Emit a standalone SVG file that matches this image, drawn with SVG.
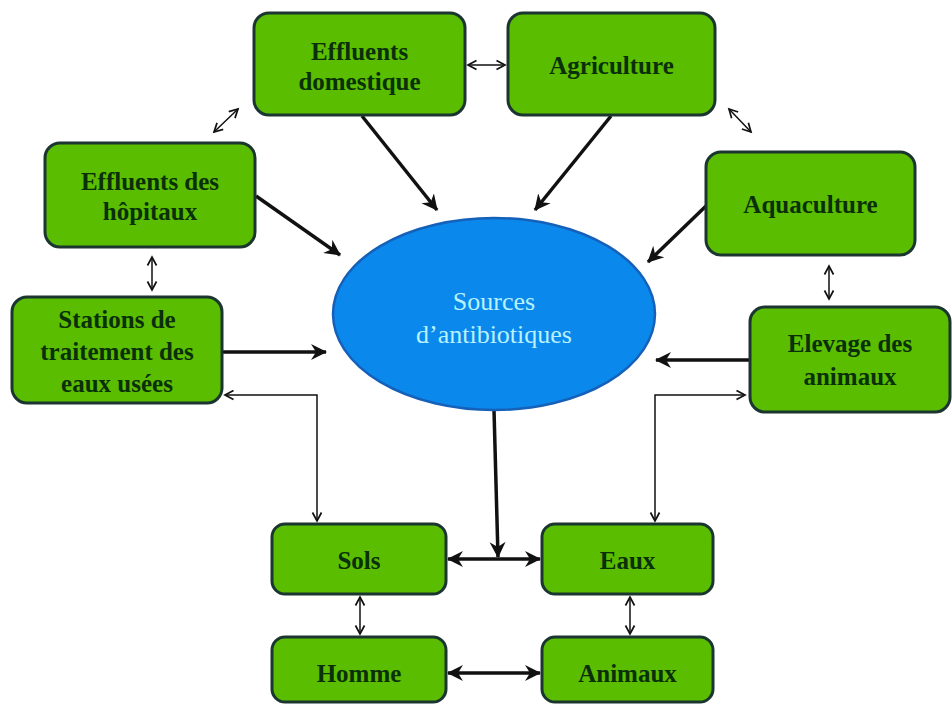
<svg xmlns="http://www.w3.org/2000/svg" width="952" height="704" viewBox="0 0 952 704">
<style>
.box{fill:#5abd00;stroke:#1b3530;stroke-width:3}
.lbl{font-family:"Liberation Serif",serif;font-weight:bold;font-size:25px;fill:#0a300a;text-anchor:middle}
.thin{fill:none;stroke:#111;stroke-width:1.5;marker-start:url(#thinArr);marker-end:url(#thinArr)}
.thick{fill:none;stroke:#111;stroke-width:3.5;marker-end:url(#thickArr)}
.thick2{fill:none;stroke:#111;stroke-width:3.5;marker-start:url(#thickArr);marker-end:url(#thickArr)}
</style>
<defs>
<marker id="thinArr" markerUnits="userSpaceOnUse" markerWidth="12" markerHeight="12" refX="9" refY="5" orient="auto-start-reverse" viewBox="0 0 12 10">
<path d="M0.5,0.5 L9,5 L0.5,9.5" fill="none" stroke="#111" stroke-width="1.7"/>
</marker>
<marker id="thickArr" markerUnits="userSpaceOnUse" markerWidth="18" markerHeight="18" refX="15" refY="8" orient="auto-start-reverse" viewBox="0 0 18 16">
<path d="M0,0 L16,8 L0,16 L5,8 z" fill="#111"/>
</marker>
</defs>
<rect width="952" height="704" fill="#fff"/>
<g id="connectors">
<line class="thin" x1="468" y1="65" x2="505" y2="65"/>
<line class="thin" x1="214" y1="132" x2="238" y2="109"/>
<line class="thin" x1="729" y1="109" x2="751" y2="132"/>
<line class="thin" x1="152" y1="257" x2="152" y2="290"/>
<line class="thin" x1="829" y1="266" x2="829" y2="299"/>
<polyline class="thin" points="317,521 317,395 225,395"/>
<polyline class="thin" points="655,521 655,395 745,395"/>
<line class="thin" x1="360" y1="597" x2="360" y2="634"/>
<line class="thin" x1="630" y1="597" x2="630" y2="634"/>
<line class="thick" x1="362" y1="116" x2="437" y2="210"/>
<line class="thick" x1="611" y1="116" x2="535" y2="210"/>
<line class="thick" x1="256" y1="196" x2="340" y2="255"/>
<line class="thick" x1="706" y1="206" x2="648" y2="262"/>
<line class="thick" x1="223" y1="352" x2="326" y2="352"/>
<line class="thick" x1="750" y1="360" x2="656" y2="360"/>
<line class="thick" x1="494" y1="410" x2="498" y2="557"/>
<line class="thick2" x1="448" y1="559" x2="540" y2="559"/>
<line class="thick2" x1="448" y1="673" x2="540" y2="673"/>
</g>
<g id="sources">
<ellipse cx="494" cy="314" rx="161" ry="96" fill="#0a88ec" stroke="#1560b8" stroke-width="2.5"/>
<text x="494" y="310" font-family="Liberation Serif,serif" font-size="26" fill="#b8f2ff" text-anchor="middle">Sources</text>
<text x="494" y="343" font-family="Liberation Serif,serif" font-size="26" fill="#b8f2ff" text-anchor="middle">d’antibiotiques</text>
</g>
<g id="effluents-domestique">
<rect class="box" x="254" y="13" width="211" height="102" rx="15"/>
<text class="lbl" x="359.5" y="60">Effluents</text>
<text class="lbl" x="359.5" y="90">domestique</text>
</g>
<g id="agriculture">
<rect class="box" x="508" y="13" width="207" height="102" rx="15"/>
<text class="lbl" x="611.5" y="74">Agriculture</text>
</g>
<g id="effluents-hopitaux">
<rect class="box" x="45" y="143" width="210" height="104" rx="15"/>
<text class="lbl" x="150" y="190">Effluents des</text>
<text class="lbl" x="150" y="220">hôpitaux</text>
</g>
<g id="aquaculture">
<rect class="box" x="706" y="152" width="209" height="103" rx="15"/>
<text class="lbl" x="810.5" y="213">Aquaculture</text>
</g>
<g id="stations">
<rect class="box" x="12" y="297" width="210" height="106" rx="15"/>
<text class="lbl" x="117" y="328">Stations de</text>
<text class="lbl" x="117" y="360">traitement des</text>
<text class="lbl" x="117" y="392">eaux usées</text>
</g>
<g id="elevage">
<rect class="box" x="750" y="307" width="200" height="105" rx="15"/>
<text class="lbl" x="850" y="352">Elevage des</text>
<text class="lbl" x="850" y="385">animaux</text>
</g>
<g id="sols">
<rect class="box" x="272" y="524" width="174" height="70" rx="13"/>
<text class="lbl" x="359" y="569">Sols</text>
</g>
<g id="eaux">
<rect class="box" x="542" y="524" width="171" height="70" rx="13"/>
<text class="lbl" x="627.5" y="569">Eaux</text>
</g>
<g id="homme">
<rect class="box" x="272" y="637" width="174" height="65" rx="13"/>
<text class="lbl" x="359" y="682">Homme</text>
</g>
<g id="animaux">
<rect class="box" x="542" y="637" width="171" height="65" rx="13"/>
<text class="lbl" x="627.5" y="682">Animaux</text>
</g>
</svg>
